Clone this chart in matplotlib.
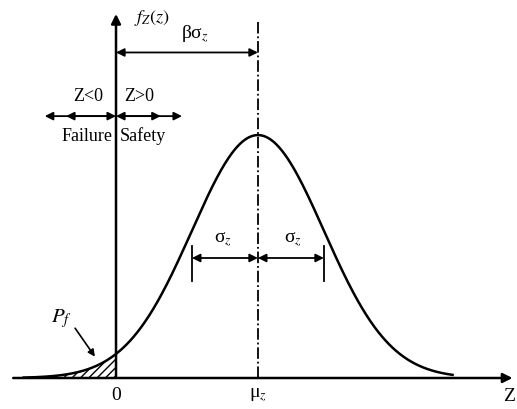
import numpy as np
import matplotlib.pyplot as plt

# diagram values, in units of sigma_z
mu_z = 2.15
sigma_z = 1.0
beta = mu_z / sigma_z
z_left, z_right = -1.6, 6.05
axis_top = 1.51

plt.rcParams['font.family'] = ['Liberation Serif', 'DejaVu Serif']
plt.rcParams['mathtext.fontset'] = 'stix'

fig = plt.figure(figsize=(5.17, 4.09), dpi=100)
ax = fig.add_axes([0, 0, 1, 1])
ax.set_xlim(-1.758, 6.076)
ax.set_ylim(-0.1276, 1.556)
ax.axis('off')

z = np.linspace(z_left + 0.2, 5.1, 600)
f = np.exp(-0.5 * ((z - mu_z) / sigma_z) ** 2)
ax.plot(z, f, color='black', lw=1.8)

# failure region
zf = z[z <= 0]
ax.fill_between(zf, 0, np.exp(-0.5 * ((zf - mu_z) / sigma_z) ** 2),
                facecolor='white', edgecolor='black', hatch='////', lw=0)

# axes
arr = dict(arrowstyle='-|>', color='black', lw=1.8, mutation_scale=14)
ax.annotate('', xy=(z_right, 0), xytext=(z_left, 0), arrowprops=arr)
ax.annotate('', xy=(0, axis_top), xytext=(0, -0.005), arrowprops=arr)

# mean line
ax.plot([mu_z, mu_z], [0, 1.47], color='black', lw=1.3, ls='-.')

# beta*sigma arrow
arr2 = dict(arrowstyle='<|-|>', color='black', lw=1.3, mutation_scale=12,
            shrinkA=0, shrinkB=0)
ax.annotate('', xy=(0, 1.34), xytext=(mu_z, 1.34), arrowprops=arr2)
ax.text(1.2, 1.37, r'βσ$_z$', ha='center', va='bottom', fontsize=14)

# sigma arrows
ys = 0.494
for a, b in [(mu_z - sigma_z, mu_z), (mu_z, mu_z + sigma_z)]:
    ax.annotate('', xy=(a, ys), xytext=(b, ys), arrowprops=arr2)
for x in (mu_z - sigma_z, mu_z + sigma_z):
    ax.plot([x, x], [0.40, 0.545], color='black', lw=1.3)
ax.text(mu_z - 0.53, 0.53, r'σ$_z$', ha='center', va='bottom', fontsize=14)
ax.text(mu_z + 0.53, 0.53, r'σ$_z$', ha='center', va='bottom', fontsize=14)

# failure / safety arrows
ya = 1.078
one = dict(arrowstyle='-|>', color='black', lw=1.3, mutation_scale=12)
ax.annotate('', xy=(-1.08, ya), xytext=(0, ya), arrowprops=arr2)
ax.annotate('', xy=(-0.8, ya), xytext=(0, ya), arrowprops=one)
ax.annotate('', xy=(1.0, ya), xytext=(0, ya), arrowprops=arr2)
ax.annotate('', xy=(0.72, ya), xytext=(0, ya), arrowprops=one)
ax.text(-0.2, 1.16, 'Z<0', ha='right', va='center', fontsize=13)
ax.text(0.12, 1.16, 'Z>0', ha='left', va='center', fontsize=13)
ax.text(-0.06, 0.995, 'Failure', ha='right', va='center', fontsize=13)
ax.text(0.06, 0.995, 'Safety', ha='left', va='center', fontsize=13)

# labels
ax.text(0.55, 1.48, r'$f_Z(z)$', ha='center', va='center', fontsize=13)
ax.text(0.0, -0.07, '0', ha='center', va='center', fontsize=14)
ax.text(mu_z, -0.07, r'μ$_z$', ha='center', va='center', fontsize=14)
ax.text(5.86, -0.075, 'Z', ha='left', va='center', fontsize=14)
ax.text(-0.82, 0.245, r'$P_f$', ha='center', va='center', fontsize=15)
ax.annotate('', xy=(-0.32, 0.088), xytext=(-0.62, 0.205),
            arrowprops=dict(arrowstyle='-|>', color='black', lw=1.2,
                            mutation_scale=10, shrinkA=0, shrinkB=0))

fig.savefig('out.png', dpi=100)
